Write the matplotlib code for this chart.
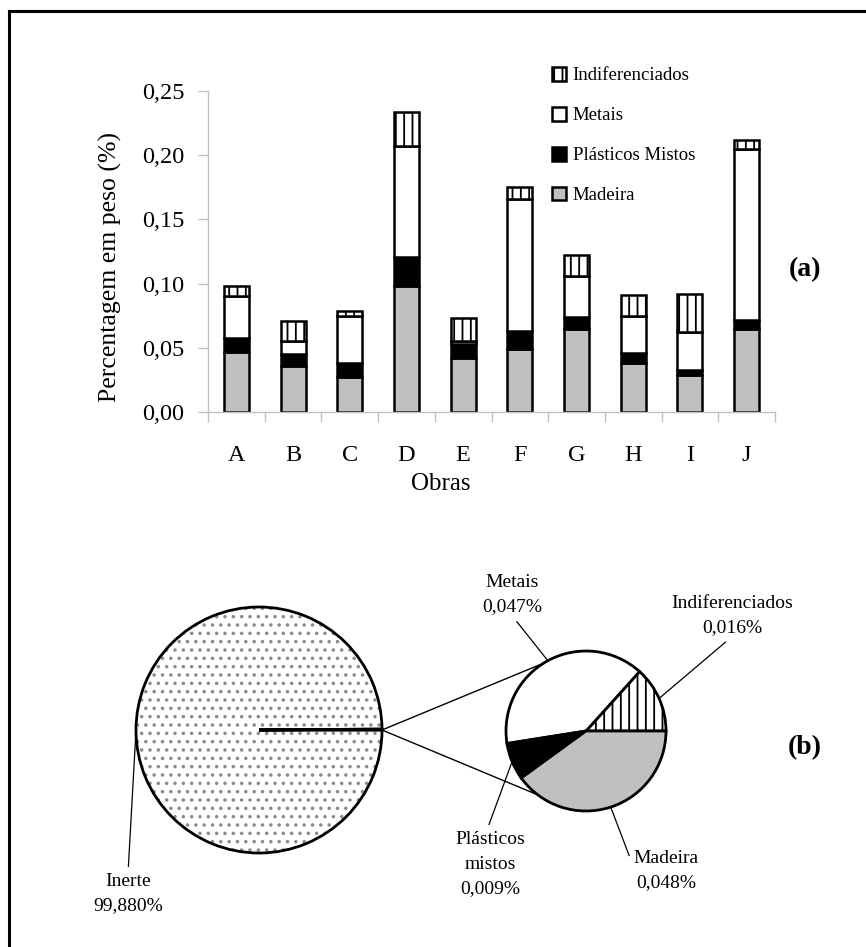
import numpy as np
import matplotlib
matplotlib.use("Agg")
import matplotlib.pyplot as plt
from matplotlib.lines import Line2D
from matplotlib.patches import ConnectionPatch

plt.rcParams["font.family"] = ["Liberation Serif", "DejaVu Serif"]
plt.rcParams["hatch.linewidth"] = 1.3

# --- data (a): composition per site, % by weight ---
obras = ["A", "B", "C", "D", "E", "F", "G", "H", "I", "J"]
madeira = [0.047, 0.036, 0.027, 0.098, 0.042, 0.049, 0.065, 0.038, 0.029, 0.065]
plasticos = [0.011, 0.009, 0.011, 0.023, 0.011, 0.014, 0.009, 0.008, 0.004, 0.007]
metais = [0.032, 0.010, 0.037, 0.086, 0.002, 0.103, 0.032, 0.029, 0.029, 0.133]
indif = [0.008, 0.016, 0.004, 0.027, 0.018, 0.009, 0.016, 0.016, 0.030, 0.007]

# --- data (b): overall composition ---
big_labels = ["Inerte", "Outros"]
big_vals = [99.880, 0.120]
small_labels = ["Indiferenciados", "Metais", "Plásticos\nmistos", "Madeira"]
small_vals = [0.016, 0.047, 0.009, 0.048]
small_txt = ["0,016%", "0,047%", "0,009%", "0,048%"]

W, H = 866, 947
fig = plt.figure(figsize=(W / 100, H / 100), dpi=100)

# frame (only left and top visible)
fig.add_artist(Line2D([9 / W, 9 / W], [0, 1 - 11 / H], color="black", lw=2.2))
fig.add_artist(Line2D([9 / W, 1], [1 - 11 / H, 1 - 11 / H], color="black", lw=2.2))

# ---------------- (a) stacked bars ----------------
ax = fig.add_axes([208 / W, 1 - 412 / H, 567 / W, 321 / H])
x = np.arange(len(obras))
bw = 0.44
ek = dict(edgecolor="black", linewidth=1.8, width=bw)
b1 = ax.bar(x, madeira, color="#c0c0c0", label="Madeira", **ek)
bot = np.array(madeira)
b2 = ax.bar(x, plasticos, bottom=bot, color="black", label="Plásticos Mistos", **ek)
bot = bot + np.array(plasticos)
b3 = ax.bar(x, metais, bottom=bot, color="white", label="Metais", **ek)
bot = bot + np.array(metais)
b4 = ax.bar(x, indif, bottom=bot, color="white", hatch="||",
            label="Indiferenciados", **ek)

ax.set_xlim(-0.5, len(obras) - 0.5)
ax.set_ylim(0, 0.25)
yt = np.arange(0, 0.251, 0.05)
ax.set_yticks(yt)
ax.set_yticklabels([f"{v:.2f}".replace(".", ",") for v in yt], fontsize=17.5)
ax.set_xticks(x)
ax.set_xticklabels(obras, fontsize=17.5)
ax.set_xticks(np.arange(-0.5, len(obras), 1), minor=True)
ax.tick_params(axis="x", which="major", length=0, pad=24)
ax.tick_params(axis="x", which="minor", length=7, color="#c0c0c0", width=1)
ax.tick_params(axis="y", length=7, color="#c0c0c0", width=1, pad=10)
for s in ["top", "right"]:
    ax.spines[s].set_visible(False)
for s in ["left", "bottom"]:
    ax.spines[s].set_color("#c0c0c0")
    ax.spines[s].set_linewidth(1)
ax.set_ylabel("Percentagem em peso (%)", fontsize=18.5)
ax.yaxis.set_label_coords(-0.152, 0.452)
ax.set_xlabel("Obras", fontsize=18)
ax.xaxis.set_label_coords(0.411, -0.19)

ax.legend([b4, b3, b2, b1],
          ["Indiferenciados", "Metais", "Plásticos Mistos", "Madeira"],
          loc="upper left", bbox_to_anchor=(552 / W, 1 - 67 / H),
          bbox_transform=fig.transFigure, frameon=False, fontsize=13.5,
          handlelength=0.75, handleheight=0.75, handletextpad=0.35,
          labelspacing=1.2, borderpad=0, borderaxespad=0)

fig.text(805 / W, 1 - 270 / H, "(a)", fontsize=20, fontweight="bold",
         ha="center", va="center")

# ---------------- (b) pie of pie ----------------
def pie_axes(cx, cy, r):
    s = 2 * 1.25 * r
    return fig.add_axes([(cx - s / 2) / W, 1 - (cy + s / 2) / H, s / W, s / H])

ax_big = pie_axes(259, 730, 123)
wb, _ = ax_big.pie(big_vals, colors=["white", "black"], startangle=0,
                   counterclock=False,
                   wedgeprops=dict(edgecolor="#8a8a8a", linewidth=0))
wb[0].set_hatch("..")
ax_big.pie(big_vals, startangle=0, counterclock=False,
           wedgeprops=dict(fill=False, edgecolor="black", linewidth=2))

ax_small = pie_axes(586, 731, 80)
ws, _ = ax_small.pie(small_vals, colors=["white", "white", "black", "#c0c0c0"],
                     startangle=0, counterclock=True,
                     wedgeprops=dict(edgecolor="black", linewidth=2))
ws[0].set_hatch("||")

# connector lines between pies
for ang in (122, 233):
    a = np.deg2rad(ang)
    cp = ConnectionPatch(xyA=(1, 0), coordsA=ax_big.transData,
                         xyB=(np.cos(a), np.sin(a)), coordsB=ax_small.transData,
                         color="black", lw=1)
    fig.add_artist(cp)


def label(axp, wedge, text, tx, ty, relpos):
    mid = np.deg2rad((wedge.theta1 + wedge.theta2) / 2)
    axp.annotate(text, xy=(np.cos(mid), np.sin(mid)), xycoords="data",
                 xytext=(tx, H - ty), textcoords="figure pixels",
                 ha="center", va="center", fontsize=14, linespacing=1.55,
                 multialignment="center",
                 arrowprops=dict(arrowstyle="-", lw=0.9, color="black",
                                 shrinkA=3, shrinkB=0, relpos=relpos))


label(ax_big, wb[0], "Inerte\n99,880%", 128, 894, (0.5, 1))
pos = [(732, 616, (0.5, 0)), (512, 595, (0.5, 0)),
       (490, 864, (0.45, 1)), (666, 871, (0.0, 0.6))]
for w, nm, val, (tx, ty, rp) in zip(ws, small_labels, small_txt, pos):
    label(ax_small, w, f"{nm}\n{val}", tx, ty, rp)

fig.text(805 / W, 1 - 748 / H, "(b)", fontsize=20, fontweight="bold",
         ha="center", va="center")

fig.savefig("out.png", dpi=100)
